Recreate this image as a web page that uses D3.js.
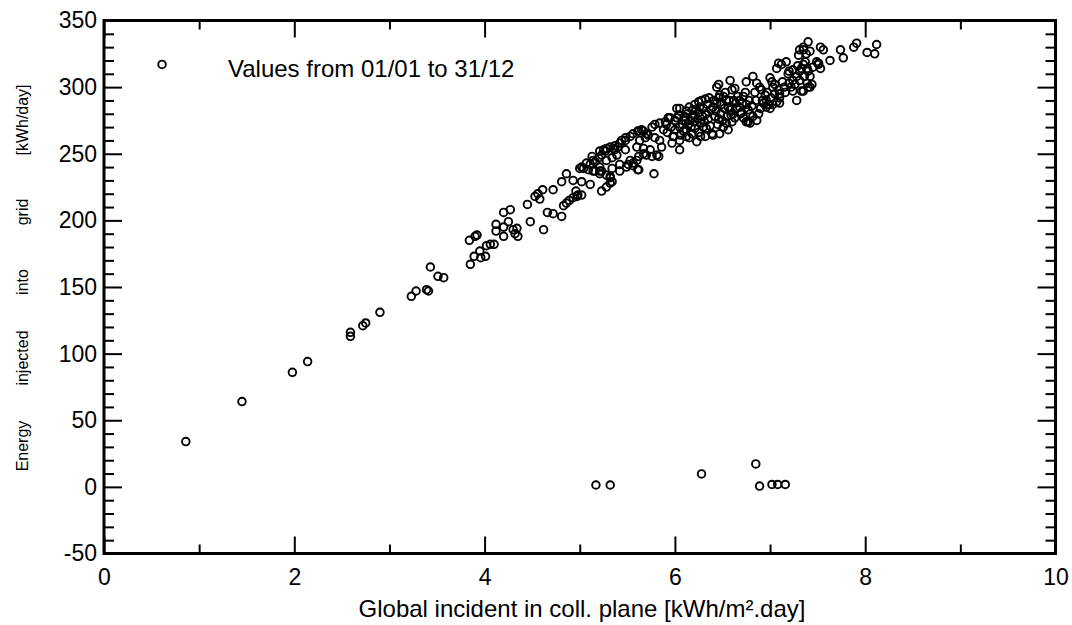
<!DOCTYPE html>
<html>
<head>
<meta charset="utf-8">
<script src="https://cdn.jsdelivr.net/npm/d3@7"></script>
<style>
  body { margin: 0; background: #fff; }
  svg text { font-family: Arial, "Liberation Sans", sans-serif; fill: #000; }
</style>
</head>
<body>
<svg id="chart" width="1072" height="625"></svg>
<script>
// daily values: global incident irradiation [kWh/m².day] vs energy injected into grid [kWh/day]
const irradiance = [
  0.61, 0.86, 1.45, 1.98, 2.14, 2.59, 2.59, 2.72, 2.75, 2.90,
  5.17, 5.32, 6.28, 6.85, 6.89, 7.02, 7.08, 7.16, 3.23, 3.28,
  3.39, 3.41, 3.43, 3.51, 3.57, 3.85, 3.84, 3.90, 3.92, 3.89,
  3.95, 3.96, 4.01, 4.02, 4.06, 4.10, 4.12, 4.12, 4.20, 4.20,
  4.25, 4.20, 4.27, 4.30, 4.32, 4.34, 4.35, 4.45, 4.48, 4.53,
  4.56, 4.61, 4.58, 4.62, 4.66, 4.72, 4.72, 4.81, 4.83, 4.86,
  4.89, 4.93, 4.97, 4.98, 4.81, 4.86, 4.93, 4.96, 5.02, 5.11,
  5.00, 5.02, 5.07, 5.13, 5.14, 5.09, 5.16, 5.21, 5.23, 5.23,
  5.28, 5.32, 5.32, 5.21, 5.25, 5.28, 5.32, 5.35, 5.37, 5.40,
  5.42, 5.44, 5.42, 5.51, 5.56, 5.61, 5.60, 5.70, 5.67, 5.74,
  5.81, 5.78, 5.48, 5.53, 5.56, 5.61, 5.67, 5.70, 5.76, 5.79,
  5.84, 5.90, 5.91, 5.95, 5.98, 6.02, 5.04, 5.11, 5.16, 5.20,
  5.23, 5.27, 5.37, 5.48, 5.62, 5.65, 5.93, 5.14, 5.21, 5.28,
  5.34, 5.42, 5.49, 5.56, 5.62, 5.53, 5.62, 5.67, 5.76, 5.83,
  5.86, 5.84, 5.79, 5.72, 5.69, 5.63, 5.60, 5.48, 5.39, 5.34,
  5.28, 5.21, 5.32, 5.34, 5.02, 6.05, 6.12, 6.19, 6.21, 6.25,
  6.28, 6.32, 6.16, 6.21, 6.27, 6.30, 6.33, 6.39, 6.32, 6.23,
  6.12, 6.05, 6.33, 6.40, 6.44, 6.46, 6.47, 6.51, 6.54, 6.56,
  6.58, 6.61, 6.63, 6.54, 6.51, 6.56, 6.47, 6.46, 6.58, 6.60,
  6.63, 6.68, 6.72, 6.75, 6.77, 6.79, 6.82, 6.86, 6.79, 6.75,
  6.72, 6.68, 6.75, 6.82, 6.86, 6.89, 6.91, 6.95, 6.96, 6.98,
  7.00, 7.03, 7.07, 7.10, 7.10, 7.09, 7.03, 7.02, 7.00, 7.07,
  7.09, 7.12, 7.17, 7.19, 7.20, 7.24, 7.24, 7.28, 7.31, 7.33,
  7.35, 7.37, 7.39, 7.40, 7.42, 7.44, 7.40, 7.35, 7.28, 7.33,
  7.24, 7.30, 7.31, 7.35, 7.40, 7.42, 7.53, 7.51, 7.53, 7.63,
  7.74, 7.77, 7.88, 7.91, 8.02, 8.10, 8.12, 7.35, 7.56, 7.49,
  7.51, 7.31, 7.39, 7.42, 7.10, 6.96, 6.77, 6.40, 6.44, 6.02,
  6.05, 6.09, 6.05, 5.99, 6.12, 6.21, 6.27, 6.18, 6.10, 6.15,
  6.20, 6.25, 6.30, 6.35, 6.38, 6.42, 6.45, 6.48, 6.52, 6.55,
  6.60, 6.65, 6.70, 6.85, 6.90, 6.92, 7.05, 7.15, 7.20, 6.62,
  6.36, 6.14, 6.00, 5.88, 5.92, 5.96, 6.00, 6.04, 6.08, 6.11,
  6.13, 6.17, 6.19, 6.22, 6.24, 6.26, 6.29, 6.31, 6.34, 6.37,
  6.41, 6.43, 6.46, 6.49, 6.50, 6.53, 6.57, 6.59, 6.64, 6.66,
  6.69, 6.71, 6.74, 6.78, 6.81, 6.84, 6.88, 6.93, 6.97, 7.01,
  7.05, 7.13, 7.16, 7.22, 7.26, 7.29, 7.36, 7.38, 7.45, 6.06,
  5.97, 6.15, 6.25
];
const energy = [
  317, 34, 64, 86, 94, 116, 113, 121, 123, 131,
  1.4, 1.4, 9.7, 17.2, 0.6, 1.8, 1.8, 1.8, 143, 147,
  148, 147, 165, 158, 157, 167, 185, 188, 189, 173,
  177, 172, 173, 181, 182, 182, 197, 192, 188, 195,
  199, 206, 208, 193, 190, 194, 188, 212, 199, 218,
  220, 223, 216, 193, 206, 205, 223, 203, 211, 213,
  215, 217, 218, 219, 229, 235, 230, 222, 229, 227,
  239, 240, 243, 248, 245, 238, 237, 237, 237, 222,
  225, 228, 232, 252, 253, 254, 255, 254, 253, 255,
  258, 260, 242, 242, 243, 238, 245, 249, 254, 253,
  249, 235, 262, 263, 265, 267, 267, 265, 270, 272,
  273, 274, 272, 277, 263, 284, 239, 242, 244, 247,
  249, 252, 256, 260, 267, 268, 277, 237, 235, 234,
  239, 237, 240, 241, 238, 245, 248, 250, 248, 248,
  255, 260, 262, 264, 262, 260, 255, 253, 249, 247,
  245, 240, 233, 229, 219, 284, 282, 283, 287, 289,
  290, 291, 275, 274, 273, 270, 269, 265, 263, 259,
  263, 253, 280, 285, 288, 292, 294, 293, 290, 285,
  283, 280, 277, 273, 270, 268, 265, 302, 305, 298,
  299, 290, 293, 287, 283, 280, 278, 275, 273, 274,
  277, 285, 304, 308, 303, 300, 298, 294, 290, 287,
  284, 287, 289, 292, 295, 298, 300, 304, 307, 314,
  318, 317, 319, 310, 312, 313, 305, 308, 312, 314,
  317, 319, 314, 312, 308, 302, 300, 297, 290, 297,
  297, 324, 328, 330, 334, 327, 330, 318, 314, 320,
  328, 322, 330, 333, 326, 325, 332, 328, 328, 319,
  317, 305, 303, 300, 288, 285, 274, 264, 300, 277,
  270, 267, 260, 263, 268, 269, 263, 265, 278, 285,
  279, 281, 284, 276, 283, 278, 272, 280, 284, 278,
  274, 284, 281, 290, 284, 290, 295, 300, 303, 290,
  292, 272, 268, 268, 266, 270, 275, 279, 272, 275,
  280, 270, 277, 283, 276, 285, 278, 274, 287, 271,
  290, 282, 276, 287, 275, 296, 290, 279, 288, 293,
  280, 288, 296, 290, 286, 296, 280, 288, 296, 292,
  302, 304, 296, 300, 302, 316, 308, 325, 315, 264,
  258, 262, 266
];

const xMajor = [0, 2, 4, 6, 8, 10];
const xMinor = [1, 3, 5, 7, 9];
const yMajor = [-50, 0, 50, 100, 150, 200, 250, 300, 350];
const yMinor = d3.range(-40, 350, 10).filter(v => v % 50 !== 0);

const xTitle = "Global incident in coll. plane [kWh/m².day]";
const yTitleWords = ["Energy", "injected", "into", "grid", "[kWh/day]"];
const note = "Values from 01/01 to 31/12";

const svg = d3.select('#chart');

const plotLeft = 104, plotRight = 1055.5, plotTop = 20.5, plotBottom = 553.5;
const xScale = d3.scaleLinear().domain([0, 10]).range([plotLeft, plotRight]);
const yScale = d3.scaleLinear().domain([-50, 350]).range([plotBottom, plotTop]);

function styleAxis (g, withText) {
  g.select('.domain').remove();
  g.selectAll('.tick line').attr('stroke', '#000').attr('stroke-width', 2);
  if (withText) {
    g.attr('font-size', 23).attr('font-family', 'Arial, "Liberation Sans", sans-serif');
  }
}

// bottom / top
svg.append('g').attr('transform', `translate(0,${plotBottom})`)
  .call(d3.axisBottom(xScale).tickValues(xMajor).tickSize(-17).tickPadding(15).tickFormat(d => String(d)))
  .call(g => styleAxis(g, true));
svg.append('g').attr('transform', `translate(0,${plotBottom})`)
  .call(d3.axisBottom(xScale).tickValues(xMinor).tickSize(-9).tickFormat(''))
  .call(g => styleAxis(g, false));
svg.append('g').attr('transform', `translate(0,${plotTop})`)
  .call(d3.axisTop(xScale).tickValues(xMajor).tickSize(-17).tickFormat(''))
  .call(g => styleAxis(g, false));
svg.append('g').attr('transform', `translate(0,${plotTop})`)
  .call(d3.axisTop(xScale).tickValues(xMinor).tickSize(-9).tickFormat(''))
  .call(g => styleAxis(g, false));

// left / right
svg.append('g').attr('transform', `translate(${plotLeft},0)`)
  .call(d3.axisLeft(yScale).tickValues(yMajor).tickSize(-18).tickPadding(7).tickFormat(d => String(d)))
  .call(g => styleAxis(g, true));
svg.append('g').attr('transform', `translate(${plotLeft},0)`)
  .call(d3.axisLeft(yScale).tickValues(yMinor).tickSize(-10).tickFormat(''))
  .call(g => styleAxis(g, false));
svg.append('g').attr('transform', `translate(${plotRight},0)`)
  .call(d3.axisRight(yScale).tickValues(yMajor).tickSize(-18).tickFormat(''))
  .call(g => styleAxis(g, false));
svg.append('g').attr('transform', `translate(${plotRight},0)`)
  .call(d3.axisRight(yScale).tickValues(yMinor).tickSize(-10).tickFormat(''))
  .call(g => styleAxis(g, false));

// points
svg.append('g')
  .selectAll('circle')
  .data(irradiance.map((x, i) => [x, energy[i]]))
  .join('circle')
  .attr('cx', d => xScale(d[0]))
  .attr('cy', d => yScale(d[1]))
  .attr('r', 3.8)
  .attr('fill', 'none')
  .attr('stroke', '#000')
  .attr('stroke-width', 1.9);

// frame
svg.append('rect')
  .attr('x', plotLeft).attr('y', plotTop)
  .attr('width', plotRight - plotLeft).attr('height', plotBottom - plotTop)
  .attr('fill', 'none').attr('stroke', '#000').attr('stroke-width', 3);

// texts
svg.append('text')
  .attr('x', 228).attr('y', 77)
  .attr('font-size', 24)
  .text(note);

svg.append('text')
  .attr('x', 582).attr('y', 617)
  .attr('text-anchor', 'middle')
  .attr('font-size', 24)
  .text(xTitle);

const wordCenters = [446, 358, 282, 212, 120];
svg.append('g')
  .selectAll('text')
  .data(yTitleWords)
  .join('text')
  .attr('transform', (d, i) => `translate(28,${wordCenters[i]}) rotate(-90)`)
  .attr('text-anchor', 'middle')
  .attr('font-size', 16)
  .text(d => d);
</script>
</body>
</html>
